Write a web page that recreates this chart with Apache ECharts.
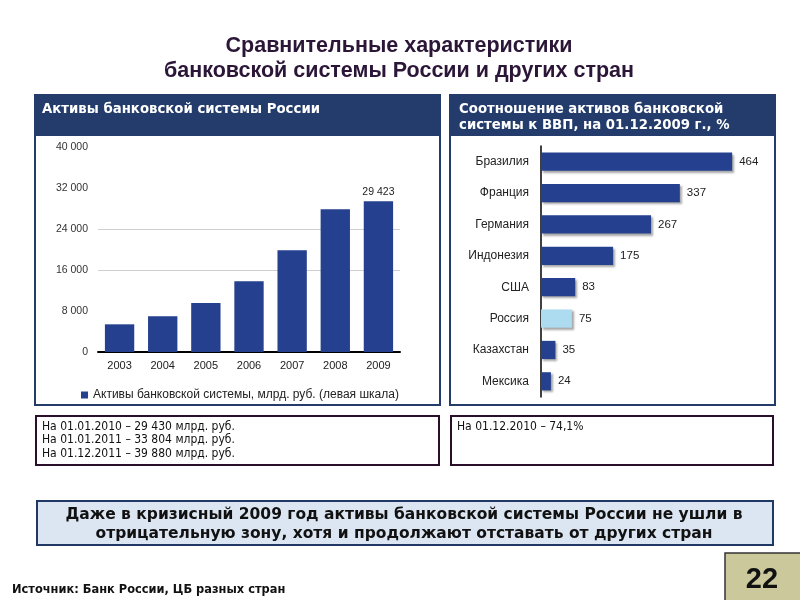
<!DOCTYPE html>
<html><head><meta charset="utf-8">
<script src="https://cdn.jsdelivr.net/npm/echarts@6/dist/echarts.min.js"></script>
<style>html,body{margin:0;padding:0;background:#fff}#c{width:800px;height:600px}</style>
</head><body><div id="c"></div>
<script>
// Left chart: assets of Russian banking system, bn RUB
const years = ['2003','2004','2005','2006','2007','2008','2009'];
const assets = [5400, 6960, 9560, 13790, 19840, 27840, 29423];
const assetsLabelIndex = 6;
const assetsSeriesName = 'Активы банковской системы, млрд. руб. (левая шкала)';
// Right chart: assets to GDP ratio, %
const countries = ['Бразилия','Франция','Германия','Индонезия','США','Россия','Казахстан','Мексика'];
const ratios = [464, 337, 267, 175, 83, 75, 35, 24];
const highlightCountry = 'Россия';
// Texts
const titleLines = ['Сравнительные характеристики','банковской системы России и других стран'];
const leftHeader = 'Активы банковской системы России';
const rightHeader = 'Соотношение активов банковской\nсистемы к ВВП, на 01.12.2009 г., %';
const leftNotes = ['На 01.01.2010 – 29 430 млрд. руб.','На 01.01.2011 – 33 804 млрд. руб.','На 01.12.2011 – 39 880 млрд. руб.'];
const rightNotes = ['На 01.12.2010 – 74,1%'];
const conclusion = 'Даже в кризисный 2009 год активы банковской системы России не ушли в\nотрицательную зону, хотя и продолжают отставать от других стран';
const source = 'Источник: Банк России, ЦБ разных стран';
const pageNo = '22';

const NAVY = '#233c6b';
const BAR = '#24408e';
const fmt = v => String(v).replace(/\B(?=(\d{3})+(?!\d))/g, ' ');

const chart = echarts.init(document.getElementById('c'));
chart.setOption({
  backgroundColor: '#fff',
  animation: false,
  textStyle: {fontFamily: 'Liberation Sans, Arial, sans-serif'},
  graphic: [
    // title
    {type:'text', x:399, y:34, style:{text:titleLines.join('\n'), font:'bold 21.5px "Liberation Sans", Arial', fill:'#2b1638', align:'center', lineHeight:25}},
    // left panel
    {type:'rect', shape:{x:35,y:95,width:405,height:310}, style:{fill:'#fff', stroke:NAVY, lineWidth:2}, z:-10},
    {type:'rect', shape:{x:35,y:95,width:405,height:41}, style:{fill:NAVY}, z:-9},
    {type:'text', x:42, y:103, style:{text:leftHeader, font:'bold 13.3px "DejaVu Sans"', fill:'#fff'}},
    // right panel
    {type:'rect', shape:{x:450,y:95,width:325,height:310}, style:{fill:'#fff', stroke:NAVY, lineWidth:2}, z:-10},
    {type:'rect', shape:{x:450,y:95,width:325,height:41}, style:{fill:NAVY}, z:-9},
    {type:'text', x:459, y:102, style:{text:rightHeader, font:'bold 13.3px "DejaVu Sans"', fill:'#fff', lineHeight:16}},
    // note boxes
    {type:'rect', shape:{x:36,y:416,width:403,height:49}, style:{fill:'#fff', stroke:'#2a0f2a', lineWidth:2}, z:-10},
    {type:'text', x:42, y:420, style:{text:leftNotes.join('\n'), font:'12px "Liberation Sans Narrow", "DejaVu Sans Condensed", sans-serif', fill:'#111', lineHeight:13.5}},
    {type:'rect', shape:{x:451,y:416,width:322,height:49}, style:{fill:'#fff', stroke:'#2a0f2a', lineWidth:2}, z:-10},
    {type:'text', x:457, y:420, style:{text:rightNotes.join('\n'), font:'12px "Liberation Sans Narrow", "DejaVu Sans Condensed", sans-serif', fill:'#111', lineHeight:13.5}},
    // conclusion
    {type:'rect', shape:{x:37,y:501,width:736,height:44}, style:{fill:'#dce6f2', stroke:'#1f3864', lineWidth:2}, z:-10},
    {type:'text', x:404, y:505, style:{text:conclusion, font:'bold 15.5px "DejaVu Sans"', fill:'#111', align:'center', lineHeight:19}},
    // source
    {type:'text', x:12, y:583, style:{text:source, font:'bold 12.7px "Liberation Sans Narrow", "DejaVu Sans Condensed"', fill:'#111'}},
    // page number
    {type:'rect', shape:{x:725,y:553,width:76,height:50}, style:{fill:'#cbc99b', stroke:'#333', lineWidth:1.5}, z:-10},
    {type:'text', x:762, y:565, style:{text:pageNo, font:'bold 29px "Liberation Sans", Arial', fill:'#111', align:'center'}}
  ],
  legend: {
    data:[assetsSeriesName], left:76, top:384, icon:'rect', itemWidth:7, itemHeight:7, itemGap:4,
    textStyle:{fontSize:12, color:'#222', fontFamily:'Liberation Sans, Arial'}
  },
  grid: [
    {left:98, right:400, top:147, bottom:248, containLabel:false},
    {left:541, right:53, top:146, bottom:203, containLabel:false}
  ],
  xAxis: [
    {gridIndex:0, type:'category', data:years, axisTick:{show:false},
     axisLine:{lineStyle:{color:'#000', width:2}},
     axisLabel:{fontSize:11, color:'#222', margin:8}},
    {gridIndex:1, type:'value', min:0, max:500, show:false}
  ],
  yAxis: [
    {gridIndex:0, type:'value', min:0, max:40000, interval:8000,
     axisLine:{show:false}, axisTick:{show:false},
     axisLabel:{fontSize:10.5, color:'#333', margin:10, formatter:v=>fmt(v)},
     splitLine:{lineStyle:{color:['rgba(0,0,0,0)','rgba(0,0,0,0)','#cfcfcf','#cfcfcf','rgba(0,0,0,0)','rgba(0,0,0,0)']}}},
    {gridIndex:1, type:'category', data:countries, inverse:true,
     axisTick:{show:false}, axisLine:{lineStyle:{color:'#000', width:1.5}},
     axisLabel:{fontSize:12, color:'#222', margin:12}}
  ],
  series: [
    {name:assetsSeriesName, type:'bar', xAxisIndex:0, yAxisIndex:0, barCategoryGap:'32%',
     itemStyle:{color:BAR},
     data: assets.map((v,i)=>({value:v, label:{show:i===assetsLabelIndex, position:'top', distance:4, fontSize:10.5, color:'#222', formatter:p=>fmt(p.value)}}))},
    {name:'ratio', type:'bar', xAxisIndex:1, yAxisIndex:1, barCategoryGap:'42%',
     itemStyle:{color:BAR, shadowColor:'rgba(0,0,0,0.35)', shadowBlur:2, shadowOffsetX:2, shadowOffsetY:2},
     label:{show:true, position:'right', distance:7, fontSize:11.5, color:'#222'},
     data: ratios.map((v,i)=> countries[i]===highlightCountry ? {value:v, itemStyle:{color:'#addcf0'}} : v)}
  ]
});
</script></body></html>
